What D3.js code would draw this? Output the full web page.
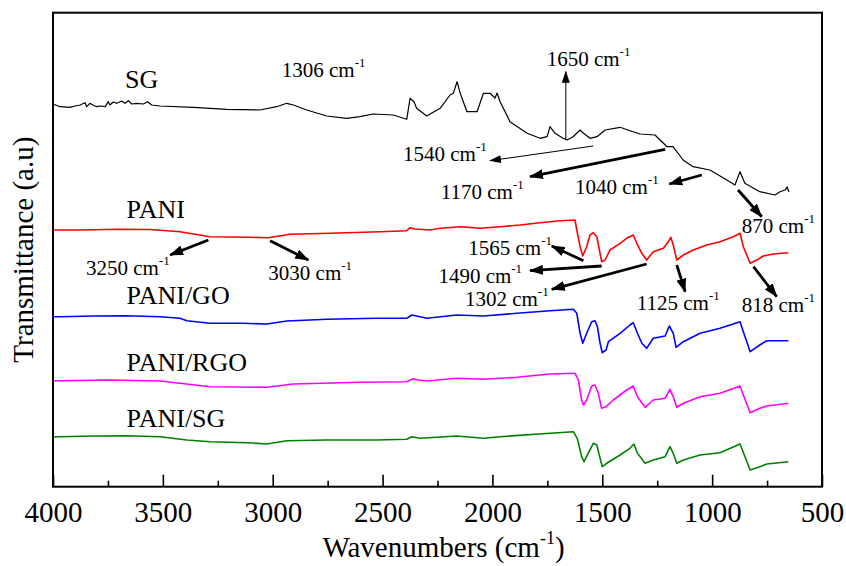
<!DOCTYPE html>
<html><head><meta charset="utf-8">
<script src="https://cdn.jsdelivr.net/npm/d3@7/dist/d3.min.js"></script>
<style>
body{margin:0;background:#fff}
</style>
</head><body>
<svg id="chart" width="846" height="566"></svg>
<script>
// ---------- DATA (wavenumber cm-1, transmittance a.u.) ----------
const seriesNames = ["SG", "PANI", "PANI/GO", "PANI/RGO", "PANI/SG"];

const SG = [[4000,382.7],[3968,380],[3923,379.4],[3900,380.7],[3877,381.7],[3854,384],[3847,380],[3832,383.4],[3817,381.4],[3801,380],[3786,380.7],[3763,380],[3748,385],[3741,381.7],[3726,384.7],[3710,383.4],[3687,385.7],[3672,383.4],[3657,386],[3642,382.7],[3619,383.4],[3589,382.7],[3569,385],[3551,381.7],[3513,380.7],[3361,379.4],[3209,377.4],[3058,376.7],[2982,380],[2936,383.4],[2906,381.7],[2845,376.7],[2754,370.7],[2663,368.4],[2603,370],[2542,372.7],[2451,371.7],[2390,367.4],[2375,388.4],[2357,385],[2345,378.4],[2299,370.7],[2238,378.4],[2193,391.7],[2178,393.4],[2161,405],[2147,393.7],[2116,375],[2070,375],[2041,393.4],[2011,393.4],[1988,388.7],[1979,393.7],[1965,385],[1920,365],[1842,353.4],[1783,348.4],[1751,350],[1738,360],[1715,353.4],[1679,348.4],[1660,346.7],[1633,350],[1601,356.7],[1588,354],[1556,348.4],[1524,350],[1487,356.7],[1419,359.4],[1374,356],[1328,352.7],[1260,351.7],[1237,346.7],[1205,340],[1178,340],[1132,326.7],[1087,320],[1010,316.7],[933,306.7],[896,301.7],[873,315],[851,303.4],[783,295],[714,291.7],[691,295],[668,296.7],[659,299.7],[650,294.7]];

const PANI = [[4000,256.7],[3877,256.7],[3695,257.4],[3558,257.2],[3422,255],[3285,250],[3103,249.4],[3021,249],[2921,252.4],[2739,253.4],[2512,255],[2390,256],[2375,259],[2352,257.7],[2284,256.7],[2238,258.4],[2147,260],[2056,258.4],[1965,260],[1874,261.7],[1783,264],[1692,266],[1624,266.7],[1616,256.7],[1601,240],[1589,230.7],[1571,240],[1556,251.7],[1541,254],[1525,250],[1513,236.7],[1503,225],[1487,226.7],[1465,236.7],[1419,243.4],[1389,248.4],[1359,251.7],[1343,243.4],[1320,233.4],[1298,226.7],[1268,235],[1222,238.4],[1199,245],[1188,249.4],[1177,241.7],[1161,226.7],[1131,231.7],[1086,236.7],[1025,241.7],[964,245],[904,250],[873,253.4],[858,240],[827,223.4],[797,226.7],[767,230.7],[721,232.7],[653,234]];

const PANI_GO = [[4000,170],[3968,170],[3817,170.7],[3665,171],[3513,170],[3422,168.4],[3391,166],[3285,163.4],[3134,163.4],[3027,162.7],[2936,165.7],[2754,167.4],[2527,168.4],[2390,168.4],[2367,171.7],[2345,170.7],[2299,168.4],[2162,171.7],[2041,170.7],[1889,173.4],[1738,176],[1632,177.4],[1616,173.4],[1601,153.4],[1589,143.4],[1571,153.4],[1548,165],[1533,166],[1522,160],[1510,143.4],[1500,134],[1483,136.7],[1472,145],[1419,153.4],[1374,161.7],[1359,164],[1340,153.4],[1320,143.4],[1298,138.4],[1268,148.4],[1214,150.7],[1195,160.7],[1177,153.4],[1164,139.4],[1131,145],[1055,153.4],[964,158.4],[873,165],[858,155],[827,135],[783,141.7],[751,146],[653,146]];

const PANI_RGO = [[4000,106],[3968,106],[3741,106.7],[3513,105.7],[3422,103.4],[3285,100],[3027,99.4],[2906,102.7],[2603,104.4],[2390,105],[2363,108],[2337,106.7],[2299,105.7],[2162,108.4],[2041,107.4],[1889,109.4],[1738,112.7],[1624,113.4],[1609,106.7],[1594,86.7],[1586,81.7],[1571,86.7],[1548,100.7],[1533,101.7],[1518,93.4],[1503,78.4],[1483,80],[1450,86.7],[1389,96.7],[1359,100.7],[1340,90],[1305,79.4],[1268,86.7],[1214,88.4],[1192,97.4],[1177,90],[1161,79.4],[1131,83.4],[1055,90],[964,93.4],[873,100.7],[855,90],[827,74],[783,78.4],[751,80.7],[653,83.4]];

const PANI_SG = [[4000,49.7],[3968,50],[3817,50.7],[3665,51],[3513,50],[3391,46.7],[3285,45],[3118,44],[3027,42.7],[2936,46],[2754,46.7],[2527,46.7],[2390,47.4],[2367,50],[2329,48.4],[2162,50.7],[2041,48.4],[1965,50],[1738,53.4],[1632,55],[1614,48.4],[1594,30],[1583,25],[1564,33.4],[1541,43.4],[1525,41.7],[1510,28.4],[1500,20],[1480,23.4],[1419,31.7],[1374,38.4],[1356,42.7],[1340,33.4],[1305,23.4],[1268,26.7],[1214,30],[1192,40],[1177,33.4],[1161,23.4],[1131,26.7],[1055,31.7],[964,34],[873,42.7],[827,16.7],[783,20],[751,22.7],[653,25]];

const seriesData = [SG, PANI, PANI_GO, PANI_RGO, PANI_SG];

// series label anchor points (data units)
const seriesLabelPos = [[3672,398.7],[3665,268.4],[3665,182.7],[3665,115.7],[3665,60]];

const majorTicks = [4000,3500,3000,2500,2000,1500,1000,500];
const minorTicks = [3750,3250,2750,2250,1750,1250,750];

// annotations: label text, label anchor [w,v], arrow tail [w,v], arrow head [w,v], arrow kind
const annLabels = ["1306","1650","1540","1170","1040","870","1565","1490","1302","1125","818","3250","3030"];
const annLabelPos = [[2959,410],[1753,420.7],[2407,326],[2235,287.4],[1624,292.7],[865,254],[2110,231.7],[2246,204],[2125,180.7],[1343,176.7],[865,175],[3850,211.7],[3020,206.7]];
const annArrowTail = [null,[1666,346.7],[1541,340.7],[1214,337.4],[1047,311.7],[882,296.7],[1586,226],[1503,220.7],[1298,222.7],[1161,221.7],[812,220],[3293,246.7],[3012,246]];
const annArrowHead = [null,[1666,415],[2011,326],[1829,310],[1195,302.7],[774,270],[1730,240.7],[1829,216],[1730,197.4],[1123,195],[706,190],[3467,231.7],[2838,226.7]];
const annArrowThin = [false,true,true,false,false,false,false,false,false,false,false,false,false];

// ---------- STYLE / LAYOUT ----------
const FONT = '"Liberation Serif", serif';
const colors = ["#000000","#ff0000","#0000ff","#ff00ff","#008000"];
const plot = {left:53, right:822, top:12.7, bottom:486.7};

const svg = d3.select("#chart");
const x = d3.scaleLinear().domain([4000,500]).range([plot.left, plot.right]);
const y = d3.scaleLinear().domain([0,474]).range([plot.bottom, plot.top]);

const defs = svg.append("defs");
defs.append("marker").attr("id","headThick").attr("markerUnits","userSpaceOnUse")
  .attr("viewBox","0 0 14 10").attr("refX",13).attr("refY",5)
  .attr("markerWidth",14).attr("markerHeight",10).attr("orient","auto")
  .append("path").attr("d","M0,0 L14,5 L0,10 Z").attr("fill","#000");
defs.append("marker").attr("id","headThin").attr("markerUnits","userSpaceOnUse")
  .attr("viewBox","0 0 12 8").attr("refX",11).attr("refY",4)
  .attr("markerWidth",12).attr("markerHeight",8).attr("orient","auto")
  .append("path").attr("d","M0,0 L12,4 L0,8 Z").attr("fill","#000");

// curves
const line = d3.line().x(d => x(d[0])).y(d => y(d[1]));
svg.append("g").selectAll("path").data(seriesData).join("path")
  .attr("d", line).attr("fill","none")
  .attr("stroke", (d,i) => colors[i])
  .attr("stroke-width", (d,i) => i === 0 ? 1.2 : 1.6)
  .attr("stroke-linejoin","round");

// series labels
svg.append("g").selectAll("text").data(seriesNames).join("text")
  .attr("x", (d,i) => x(seriesLabelPos[i][0]))
  .attr("y", (d,i) => y(seriesLabelPos[i][1]))
  .attr("font-size", 26).text(d => d);

// annotation arrows
const arrows = svg.append("g");
annLabels.forEach((lab,i) => {
  if (!annArrowTail[i]) return;
  arrows.append("line")
    .attr("x1", x(annArrowTail[i][0])).attr("y1", y(annArrowTail[i][1]))
    .attr("x2", x(annArrowHead[i][0])).attr("y2", y(annArrowHead[i][1]))
    .attr("stroke","#000")
    .attr("stroke-width", annArrowThin[i] ? 1 : 2.8)
    .attr("marker-end", annArrowThin[i] ? "url(#headThin)" : "url(#headThick)");
});

// annotation labels
const annG = svg.append("g");
annLabels.forEach((lab,i) => {
  const t = annG.append("text")
    .attr("x", x(annLabelPos[i][0])).attr("y", y(annLabelPos[i][1]))
    .attr("font-size", 21);
  t.append("tspan").text(lab + " cm");
  t.append("tspan").attr("font-size", 13).attr("dy", -10).text("-1");
});

// x axis
const gMajor = svg.append("g").attr("transform", `translate(0,${plot.bottom})`)
  .call(d3.axisBottom(x).tickValues(majorTicks).tickSize(-12).tickFormat(d3.format("d")));
gMajor.attr("font-family", null).attr("font-size", null);
gMajor.select(".domain").remove();
gMajor.selectAll("line").attr("stroke","#000").attr("stroke-width",1.6);
gMajor.selectAll("text").attr("y", 35).attr("dy", 0)
  .attr("font-size", 29).attr("fill","#000");

const gMinor = svg.append("g").attr("transform", `translate(0,${plot.bottom})`)
  .call(d3.axisBottom(x).tickValues(minorTicks).tickSize(-6).tickFormat(""));
gMinor.select(".domain").remove();
gMinor.selectAll("line").attr("stroke","#000").attr("stroke-width",1.6);

// frame
svg.append("rect").attr("x", plot.left).attr("y", plot.top)
  .attr("width", plot.right - plot.left).attr("height", plot.bottom - plot.top)
  .attr("fill","none").attr("stroke","#000").attr("stroke-width",2);

// axis titles
const xt = svg.append("text").attr("x", (plot.left + plot.right)/2 + 6).attr("y", 557)
  .attr("text-anchor","middle").attr("font-size", 29);
xt.append("tspan").text("Wavenumbers (cm");
xt.append("tspan").attr("font-size", 18).attr("dy", -13).text("-1");
xt.append("tspan").attr("dy", 13).text(")");

svg.append("text").attr("transform", `translate(33,${(plot.top + plot.bottom)/2}) rotate(-90)`)
  .attr("text-anchor","middle").attr("font-size", 29).text("Transmittance (a.u)");

// serif font on every text node
svg.selectAll("text").attr("font-family", FONT).attr("fill", "#000");
</script>
</body></html>
